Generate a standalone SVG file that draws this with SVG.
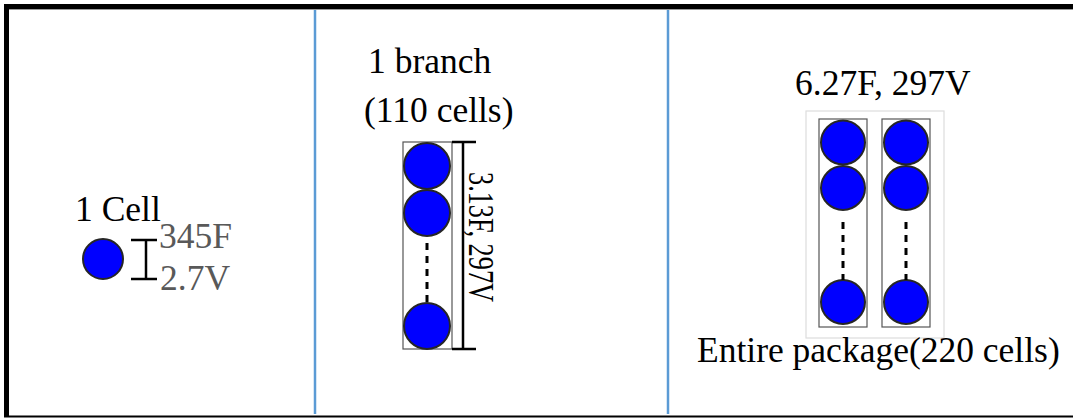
<svg xmlns="http://www.w3.org/2000/svg" width="1073" height="419" viewBox="0 0 1073 419">
<style>
.t{font-family:"Liberation Serif","Times New Roman",serif;font-size:35.5px;fill:#000}
.g{fill:#595959}
.cell{fill:#0000ff;stroke:#262626;stroke-width:2}
.box{fill:none;stroke:#555;stroke-width:1.2}
.dots{stroke:#000;stroke-width:3;stroke-dasharray:7 6;fill:none}
.bar{stroke:#000;stroke-width:2.5;fill:none}
.div{stroke:#5b9bd5;stroke-width:2.5}
</style>
<rect x="0" y="0" width="1073" height="419" fill="#fff"/>
<g id="frame">
<line x1="4" y1="6.5" x2="1073" y2="6.5" stroke="#000" stroke-width="5"/>
<line x1="9" y1="9.5" x2="1073" y2="9.5" stroke="#999" stroke-width="1"/>
<line x1="6.5" y1="4" x2="6.5" y2="417" stroke="#000" stroke-width="5"/>
<line x1="4" y1="416.5" x2="1073" y2="416.5" stroke="#000" stroke-width="2"/>
<line class="div" x1="315" y1="10" x2="315" y2="414"/>
<line class="div" x1="668" y1="10" x2="668" y2="414"/>
</g>
<g id="cell">
<text class="t" x="75" y="221" font-size="34">1 Cell</text>
<circle class="cell" cx="103" cy="259" r="20"/>
<path class="bar" d="M146 240V279M131 240H157M131 279H157"/>
<text class="t g" x="159" y="248">345F</text>
<text class="t g" x="160" y="290">2.7V</text>
</g>
<g id="branch">
<text class="t" x="368" y="73">1 branch</text>
<text class="t" x="364" y="122">(110 cells)</text>
<rect class="box" x="403" y="142" width="49" height="207"/>
<circle class="cell" cx="427" cy="166" r="23"/>
<circle class="cell" cx="427" cy="213" r="23"/>
<circle class="cell" cx="427" cy="326" r="23"/>
<line class="dots" x1="427" y1="243" x2="427" y2="303"/>
<path class="bar" d="M463 142V349M452 142H476M452 349H476" stroke-width="3"/>
<text class="t" transform="translate(469,172) rotate(90)" textLength="130" lengthAdjust="spacingAndGlyphs" font-size="33">3.13F, 297V</text>
</g>
<g id="package">
<text class="t" x="795" y="95">6.27F, 297V</text>
<rect x="806" y="111" width="138" height="227" fill="none" stroke="#ddd" stroke-width="1.2"/>
<rect class="box" x="819" y="119" width="48" height="208"/>
<rect class="box" x="882" y="119" width="48" height="208"/>
<circle class="cell" cx="843" cy="142.5" r="22"/>
<circle class="cell" cx="843" cy="188" r="22"/>
<circle class="cell" cx="843" cy="302" r="22"/>
<circle class="cell" cx="906" cy="142.5" r="22"/>
<circle class="cell" cx="906" cy="188" r="22"/>
<circle class="cell" cx="906" cy="302" r="22"/>
<line class="dots" x1="843" y1="222" x2="843" y2="280"/>
<line class="dots" x1="906" y1="222" x2="906" y2="280"/>
<text class="t" x="697" y="362">Entire package(220 cells)</text>
</g>
</svg>
